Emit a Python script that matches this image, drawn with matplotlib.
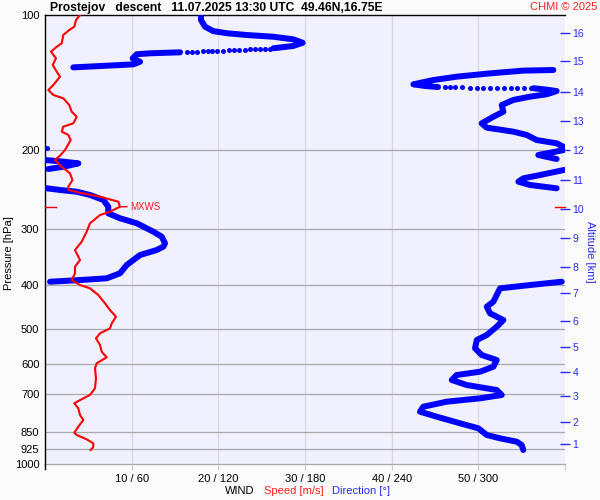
import numpy as np
import matplotlib
matplotlib.use("Agg")
import matplotlib.pyplot as plt
from matplotlib.ticker import NullLocator
from matplotlib.transforms import blended_transform_factory
from matplotlib.lines import Line2D

plt.rcParams['font.family'] = ['Liberation Sans', 'DejaVu Sans']

title = "Prostejov   descent   11.07.2025 13:30 UTC  49.46N,16.75E"
credit = "CHMI \u00a9 2025"

pressure_ticks = [100, 200, 300, 400, 500, 600, 700, 850, 925, 1000]
speed_ticks = [10, 20, 30, 40, 50]
speed_tick_labels = ["10 / 60", "20 / 120", "30 / 180", "40 / 240", "50 / 300"]
alt_km = list(range(1, 17))
alt_pressure = [902.6, 806, 705.8, 624, 548, 480, 416, 364.1, 313.8, 270.4,
                233.1, 200, 172.2, 148.4, 126.6, 109.7]

# wind speed profile [hPa], [m/s]
speed_p = [100.0, 102.6, 106.2, 108.0, 110.8, 115.6, 117.7, 120.7, 124.9, 129.2,
           133.7, 137.2, 143.2, 146.9, 150.7, 153.3, 158.7, 164.2, 168.5, 174.3,
           177.3, 181.9, 185.0, 189.9, 199.8, 205.0, 210.4, 217.7, 225.2, 233.1,
           241.2, 245.3, 248.8, 253.9, 260.5, 267.3, 274.2, 278.9, 291.0, 303.8,
           319.8, 333.8, 351.3, 363.6, 376.1, 389.3, 399.4, 406.2, 420.4, 438.7,
           454.0, 469.9, 486.1, 498.7, 511.6, 524.9, 543.2, 562.2, 578.6, 596.7,
           612.2, 644.4, 678.3, 702.0, 714.0, 732.5, 751.5, 777.8, 798.0, 825.9,
           851.8, 861.8, 881.1, 899.3, 916.5, 930.8]
speed_ms = [4.04, 3.58, 3.38, 2.80, 2.11, 1.93, 1.35, 0.69, 1.27, 0.89,
            1.35, 1.73, 0.96, 0.38, 0.96, 2.11, 2.80, 3.08, 3.66, 3.27,
            2.11, 1.93, 2.69, 2.97, 2.31, 1.81, 1.15, 1.93, 2.88, 3.17,
            2.69, 2.69, 4.04, 6.35, 8.46, 8.65, 7.50, 6.35, 5.19, 4.81,
            4.23, 3.46, 4.04, 3.46, 3.46, 3.08, 4.04, 5.19, 6.15, 6.92,
            7.50, 8.19, 7.70, 7.50, 6.35, 5.88, 6.35, 6.54, 7.12, 5.96,
            5.77, 5.88, 5.77, 5.19, 4.42, 3.38, 3.84, 4.04, 4.42, 3.84,
            3.38, 3.66, 4.81, 5.57, 5.57, 5.27]

# wind direction profile (dense readings) [hPa], [deg]
dir_p = [100.0, 102.6, 106.2, 108.6, 109.8, 110.8, 111.8, 113.3, 115.3, 117.2, 118.6,
         121.1, 121.7, 122.3, 124.9, 127.1, 128.8, 129.7, 130.8,
         132.6, 133.0, 134.9, 137.2, 139.6, 142.7, 143.9, 144.7,
         145.6, 146.5, 147.7, 150.2, 152.0, 154.6, 158.7, 164.2, 168.5, 174.3,
         178.2, 181.9, 185.0, 189.9, 193.1, 196.5,
         199.8, 205.0, 209.3,
         210.4, 212.0, 214.0, 217.5, 220.3,
         221.4, 227.2, 231.1, 235.1, 239.1, 243.2,
         243.2, 245.3, 247.5, 251.7, 258.2, 267.3, 276.5, 283.6, 291.0, 303.8,
         311.7, 322.5, 328.1, 333.8, 342.4, 360.4, 376.1, 385.9, 389.3, 392.7,
         392.7, 399.4, 406.2, 420.4, 435.1, 446.4, 461.8, 477.9, 494.6, 516.1,
         529.5, 552.5, 571.8, 586.7, 607.2, 622.9, 633.6, 650.0, 666.9, 684.2,
         702.0, 714.0, 726.5, 745.4, 764.7, 784.6, 811.6, 832.7, 861.8, 876.6,
         891.9, 907.2, 930.8]
dir_deg = [108.0, 108.0, 110.8, 116.5, 125.8, 139.6, 158.1, 171.9, 178.4, 171.9, 158.1,
           93.5, 72.7, 63.5, 60.7, 65.8, 61.1, 42.7, 19.6,
           351.9, 331.1, 308.1, 285.0, 268.8, 255.0, 263.1, 272.1,
           338.1, 346.2, 354.2, 347.3, 335.8, 324.2, 316.2, 317.3, 310.4, 302.3,
           305.8, 324.2, 333.5, 340.4, 354.2, 358.8,
           359.5, 341.5, 354.2,
           0.3, 11.8, 23.1, 13.8, 2.3,
           359.3, 342.7, 331.1, 327.7, 335.8, 354.2,
           1.2, 10.4, 21.9, 31.2, 40.4, 43.8, 43.8, 51.9, 63.5, 75.0,
           80.8, 83.1, 81.9, 77.3, 65.8, 56.6, 51.9, 42.7, 24.2, 3.5,
           357.7, 335.8, 315.0, 312.7, 310.4, 305.8, 308.1, 317.3, 312.7, 305.8,
           298.9, 297.7, 302.3, 312.7, 310.4, 301.2, 285.0, 281.6, 291.9, 312.7,
           316.2, 301.2, 278.1, 261.9, 259.6, 271.2, 287.3, 300.0, 305.8, 315.0,
           326.6, 330.0, 331.1]

# sparse direction readings
dot_p = [118.8, 118.9, 119.0, 119.2, 119.3, 119.4, 119.6, 119.7, 119.8, 120.0,
         120.1, 120.2, 120.4, 120.5, 120.6, 120.8, 120.9,
         144.9, 144.9, 145.0, 145.0, 145.1, 145.2, 145.3, 145.4, 145.4, 145.5,
         145.5, 145.6, 145.6, 145.6,
         198.1]
dot_deg = [155.8, 152.5, 148.8, 145.4, 141.9, 138.3, 134.5, 131.1, 127.4, 123.0,
           118.9, 115.8, 112.6, 109.2, 105.0, 101.6, 98.1,
           276.9, 280.4, 283.8, 288.5, 294.2, 298.9, 303.4, 308.1, 312.7, 317.8,
           322.4, 327.0, 331.6, 336.3,
           1.2]

mxws_p = 267.3
mxws_speed = 8.65

RED = '#ff0000'
TRED = '#ff2020'
BLUE = '#0000ff'
TBLUE = '#2a2aff'

fig = plt.figure(figsize=(6, 5), dpi=100, facecolor='#fbfbfb')
ax = fig.add_axes([0.075, 0.072, 0.8667, 0.898])
ax.set_facecolor('#f0f0ff')
ax.set_yscale('log')
ax.set_ylim(1000, 100)
ax.set_xlim(0, 60)
ax.set_yticks(pressure_ticks)
ax.set_yticklabels([str(p) for p in pressure_ticks])
ax.yaxis.set_minor_locator(NullLocator())
ax.tick_params(axis='y', length=0, pad=4, labelsize=8)
ax.set_xticks([0] + speed_ticks + [60])
ax.set_xticklabels([''] + speed_tick_labels + [''])
ax.tick_params(axis='x', length=4, color='#cfcfcf', width=0.8, pad=3, labelsize=8)
for p in pressure_ticks[1:-1]:
    ax.axhline(p, color='#a9a9a9', lw=0.9, zorder=0.5)
for s in speed_ticks:
    ax.axvline(s, color='#d9d9d9', lw=0.9, zorder=0.4)
ax.spines['top'].set_color('black')
ax.spines['top'].set_linewidth(1.0)
ax.spines['left'].set_color('black')
ax.spines['left'].set_linewidth(1.0)
ax.spines['bottom'].set_color('#a9a9a9')
ax.spines['bottom'].set_linewidth(0.9)
ax.spines['right'].set_visible(False)

# altitude axis
axr = ax.twinx()
axr.set_yscale('log')
axr.set_ylim(1000, 100)
axr.set_yticks(alt_pressure)
axr.set_yticklabels([str(a) for a in alt_km])
axr.yaxis.set_minor_locator(NullLocator())
axr.tick_params(axis='y', colors=TBLUE, length=7, direction='inout', width=1,
                labelsize=7.5, pad=2)
for sp in axr.spines.values():
    sp.set_visible(False)

# direction axis
axd = ax.twiny()
axd.set_xlim(0, 360)
axd.xaxis.set_visible(False)
for sp in axd.spines.values():
    sp.set_visible(False)
pd_ = np.array(dir_p, float)
dd_ = np.array(dir_deg, float)
brk = np.where(np.abs(np.diff(dd_)) > 40)[0] + 1
pd_b = np.insert(pd_, brk, np.nan)
dd_b = np.insert(dd_, brk, np.nan)
axd.plot(dd_b, pd_b, color=BLUE, lw=4.3, solid_capstyle='round', solid_joinstyle='round')
axd.plot(dot_deg, dot_p, 'o', color=BLUE, ms=3.6, mec='none')

# speed axis
axs = ax.twiny()
axs.set_xlim(0, 60)
axs.xaxis.set_visible(False)
for sp in axs.spines.values():
    sp.set_visible(False)
axs.plot(speed_ms, speed_p, color=RED, lw=1.5, solid_joinstyle='round')
axs.annotate('MXWS', xy=(mxws_speed, mxws_p), xytext=(7.2, 0), textcoords='offset points',
             color=TRED, fontsize=7, ha='left', va='center',
             arrowprops=dict(arrowstyle='-', color=RED, lw=1, shrinkA=0, shrinkB=0))
tr = blended_transform_factory(axs.transAxes, axs.transData)
axs.plot([0, 0.021], [mxws_p, mxws_p], transform=tr, color=RED, lw=1, clip_on=False)
axs.plot([0.981, 1.0], [mxws_p, mxws_p], transform=tr, color=RED, lw=1, clip_on=False)

fig.add_artist(Line2D([0.075, 0.075], [0.062, 0.072], color='black', lw=1.0,
                      transform=fig.transFigure))

fig.text(50 / 600, 1 - 7.5 / 500, title, fontsize=8.7, fontweight='bold', ha='left', va='center')
fig.text(597 / 600, 1 - 7.5 / 500, credit, fontsize=8, color=TRED, ha='right', va='center')
fig.text(9 / 600, 1 - 253 / 500, 'Pressure [hPa]', rotation=90, fontsize=8,
         ha='center', va='center')
fig.text(590 / 600, 1 - 252 / 500, 'Altitude [km]', rotation=270, fontsize=8,
         color=TBLUE, ha='center', va='center')
fig.text(225 / 600, 1 - 491 / 500, 'WIND', fontsize=8, ha='left', va='center')
fig.text(264 / 600, 1 - 491 / 500, 'Speed [m/s]', fontsize=8, color=TRED, ha='left', va='center')
fig.text(332 / 600, 1 - 491 / 500, 'Direction [\u00b0]', fontsize=8, color=TBLUE,
         ha='left', va='center')

fig.savefig('out.png', dpi=100, facecolor=fig.get_facecolor())
